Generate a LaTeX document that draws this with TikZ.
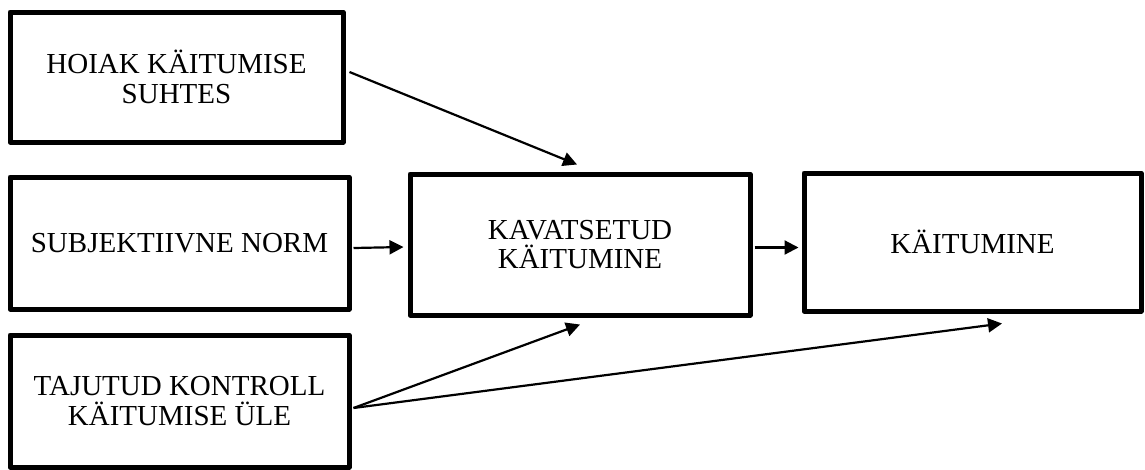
\documentclass[tikz,border=0pt]{standalone}
\usepackage{fontspec}
\setmainfont{Liberation Serif}
\usetikzlibrary{arrows.meta,calc}
\begin{document}
\begin{tikzpicture}[x=1pt,y=-1pt,
  box/.style={draw=black,line width=5pt,line join=round,align=center,inner sep=0pt,
    font=\fontsize{29}{29.5}\selectfont},
  arr/.style={line width=2.2pt,-{Triangle[length=14pt,width=14pt]}}]
\fill[white] (0,0) rectangle (1145,469);
\useasboundingbox (0,0) rectangle (1145,469);
\node[box,minimum width=333pt,minimum height=130pt] (b1) at (176.5,77) {HOIAK KÄITUMISE\\SUHTES};
\node[box,minimum width=339pt,minimum height=132pt] (b2) at (179.5,243) {SUBJEKTIIVNE NORM};
\node[box,minimum width=339pt,minimum height=132pt] (b3) at (179.5,401) {TAJUTUD KONTROLL\\KÄITUMISE ÜLE};
\node[box,minimum width=340pt,minimum height=141pt] (b4) at (580,244.5) {KAVATSETUD\\KÄITUMINE};
\node[box,minimum width=337pt,minimum height=138pt] (b5) at (972.5,242) {KÄITUMINE};
\draw[arr] ($(b1.east)+(4,-5)$) -- ($(b4.north)+(-3,-7)$);
\draw[arr] ($(b2.east)+(2,5)$) -- ($(b4.west)+(-4,2.5)$);
\draw[arr] ($(b4.east)+(2,3)$) -- ($(b5.west)+(-3,5.5)$);
\draw[arr] ($(b3.east)+(2,7)$) -- ($(b4.south)+(0,7)$);
\draw[arr] ($(b3.east)+(2,7)$) -- ($(b5.south)+(29.5,10)$);
\end{tikzpicture}
\end{document}
